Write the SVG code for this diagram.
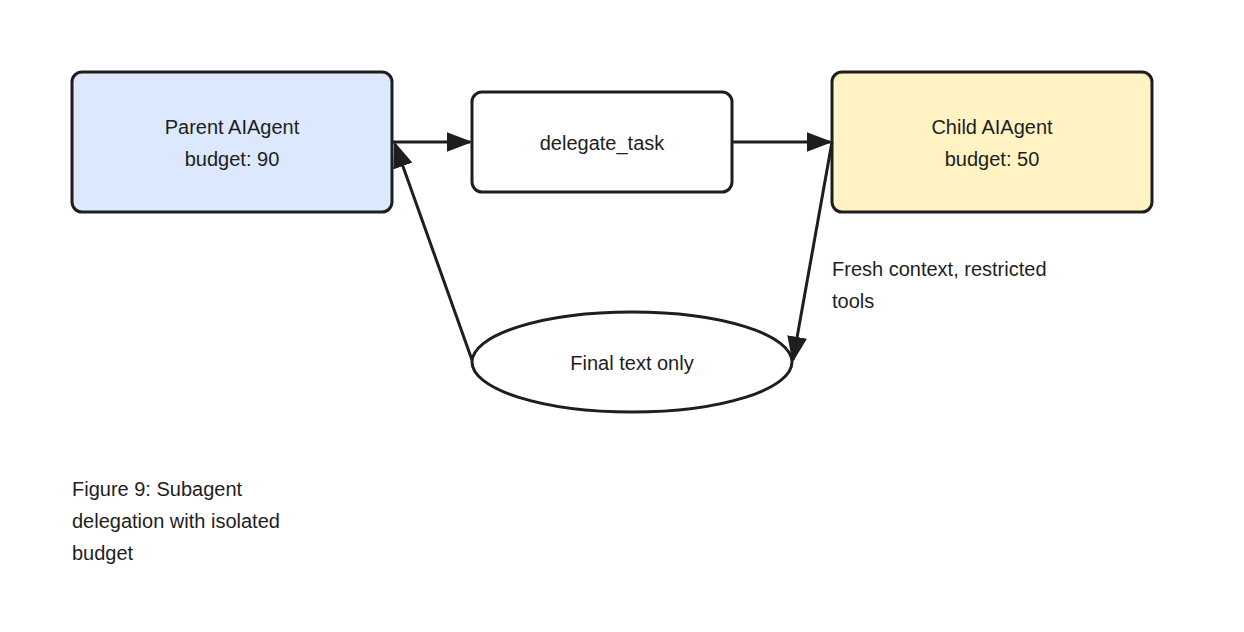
<svg xmlns="http://www.w3.org/2000/svg" width="1244" height="632" viewBox="0 0 1244 632">
<style>
.box{stroke:#1e1e1e;stroke-width:3}
.t{font-family:"Liberation Sans",sans-serif;font-size:20px;fill:#1e1e1e}
.c{stroke:#1e1e1e;stroke-width:3;fill:none}
</style>
<defs><marker id="a" viewBox="0 0 10 10" refX="9" refY="5" markerWidth="8" markerHeight="8" markerUnits="userSpaceOnUse" orient="auto"><path d="M0,0L10,5L0,10z" fill="#1e1e1e"/></marker>
<marker id="b" viewBox="0 0 10 10" refX="9" refY="5" markerWidth="26" markerHeight="20" markerUnits="userSpaceOnUse" orient="auto" preserveAspectRatio="none"><path d="M0,0L10,5L0,10z" fill="#1e1e1e"/></marker></defs>
<rect width="1244" height="632" fill="#fff"/>
<g id="parent"><rect class="box" x="72" y="72" width="320" height="140" rx="10" fill="#dbe8fd"/><text class="t" x="232" y="134" text-anchor="middle">Parent AIAgent</text><text class="t" x="232" y="166" text-anchor="middle">budget: 90</text></g>
<g id="delegate"><rect class="box" x="472" y="92" width="260" height="100" rx="10" fill="#fff"/><text class="t" x="602" y="150" text-anchor="middle">delegate_task</text></g>
<g id="child"><rect class="box" x="832" y="72" width="320" height="140" rx="10" fill="#fff3c4"/><text class="t" x="992" y="134" text-anchor="middle">Child AIAgent</text><text class="t" x="992" y="166" text-anchor="middle">budget: 50</text></g>
<g id="final"><ellipse class="box" cx="632" cy="362" rx="160" ry="50" fill="#fff"/><text class="t" x="632" y="370" text-anchor="middle">Final text only</text></g>
<g id="connectors">
<line class="c" x1="393" y1="142" x2="470" y2="142" marker-end="url(#b)"/>
<line class="c" x1="733" y1="142" x2="830" y2="142" marker-end="url(#b)"/>
<line class="c" x1="832" y1="142" x2="793" y2="360" marker-end="url(#b)"/>
<line class="c" x1="472" y1="360" x2="395" y2="144" marker-end="url(#b)"/>
<text class="t" x="832" y="276">Fresh context, restricted</text><text class="t" x="832" y="308">tools</text>
</g>
<g id="caption"><text class="t" x="72" y="496">Figure 9: Subagent</text><text class="t" x="72" y="528">delegation with isolated</text><text class="t" x="72" y="560">budget</text></g>
</svg>
